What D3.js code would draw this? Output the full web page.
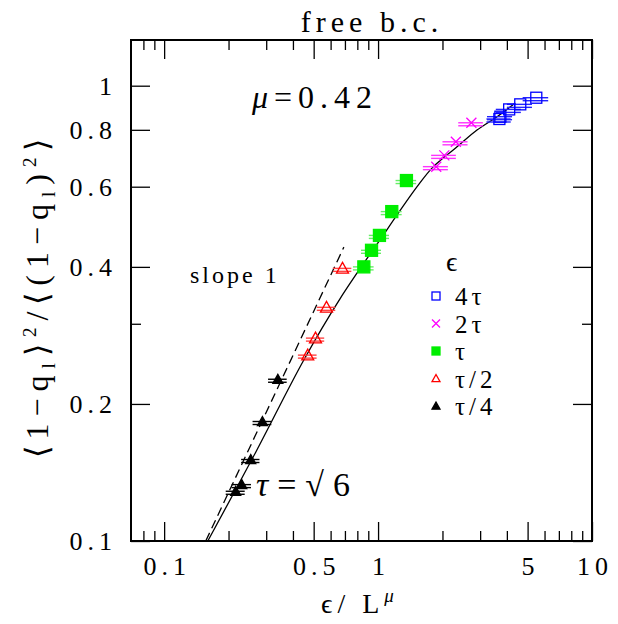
<!DOCTYPE html>
<html>
<head>
<meta charset="utf-8">
<script src="https://cdn.jsdelivr.net/npm/d3@7"></script>
<style>
  body { margin: 0; background: #fff; }
  text { font-family: "Liberation Serif", serif; fill: #000; }
</style>
</head>
<body>
<div id="chart"></div>
<script>
var svgWidth = 618;
var svgHeight = 624;

var margin = { top: 40, right: 26, bottom: 83, left: 131 };
var chartWidth = svgWidth - margin.left - margin.right;
var chartHeight = svgHeight - margin.top - margin.bottom;

// data: [x, y, x error]
var set4tau  = [[5.49, 0.941, 0.75], [4.62, 0.910, 0.62], [4.10, 0.887, 0.55], [3.73, 0.855, 0.50], [3.69, 0.845, 0.48]];
var set2tau  = [[2.73, 0.829, 0.36], [2.31, 0.753, 0.31], [2.04, 0.703, 0.27], [1.87, 0.664, 0.25]];
var setTau   = [[1.357, 0.619, 0.15], [1.159, 0.529, 0.13], [1.015, 0.469, 0.11], [0.932, 0.435, 0.10], [0.858, 0.400, 0.095]];
var setTau2  = [[0.682, 0.397, 0.068], [0.574, 0.326, 0.057], [0.510, 0.279, 0.05], [0.469, 0.256, 0.047]];
var setTau4  = [[0.340, 0.2266, 0.034], [0.288, 0.183, 0.029], [0.254, 0.151, 0.025], [0.2306, 0.133, 0.024], [0.216, 0.1286, 0.022]];

// fitted curve and slope-1 guide
var fitCurve = [[0.160, 0.100], [0.268, 0.1567], [0.449, 0.2495], [0.667, 0.3415], [1.004, 0.4534],
                [1.522, 0.600], [1.814, 0.664], [2.34, 0.734], [2.90, 0.799], [3.60, 0.855], [4.38, 0.916]];
var slopeLine = [[0.1565, 0.100], [0.692, 0.442]];

var xMajor = [0.1, 0.5, 1, 5, 10];
var xMinor = [0.08, 0.09, 0.2, 0.3, 0.4, 0.6, 0.7, 0.8, 0.9, 2, 3, 4, 6, 7, 8, 9];
var yMajor = [0.1, 0.2, 0.4, 0.6, 0.8, 1];
var yMinor = [0.3];

var legendLabels = ["4τ", "2τ", "τ", "τ/2", "τ/4"];

var svg = d3.select("#chart").append("svg")
  .attr("width", svgWidth)
  .attr("height", svgHeight);

var chartGroup = svg.append("g")
  .attr("transform", `translate(${margin.left}, ${margin.top})`);

var xScale = d3.scaleLog().domain([0.07, 10]).range([0, chartWidth]);
var yScale = d3.scaleLog().domain([0.1, 1.26]).range([chartHeight, 0]);

var fmt = d => String(d);

// axes: ticks point inward, on all four sides
function tickStyle(g) {
  g.select(".domain").remove();
  g.selectAll("line").attr("stroke", "#000").attr("stroke-width", 1.3);
  g.selectAll("text").attr("font-size", "26px").attr("letter-spacing", "5px")
    .attr("font-family", "Liberation Serif, serif").attr("fill", "#000");
}

chartGroup.append("g")
  .attr("transform", `translate(0, ${chartHeight})`)
  .call(d3.axisBottom(xScale).tickValues(xMajor).tickSize(-19).tickPadding(16).tickFormat(fmt))
  .call(tickStyle)
  .selectAll("text").attr("dx", "2.5px");
chartGroup.append("g")
  .attr("transform", `translate(0, ${chartHeight})`)
  .call(d3.axisBottom(xScale).tickValues(xMinor).tickSize(-10).tickFormat(""))
  .call(tickStyle);
chartGroup.append("g")
  .call(d3.axisTop(xScale).tickValues(xMajor).tickSize(-19).tickFormat(""))
  .call(tickStyle);
chartGroup.append("g")
  .call(d3.axisTop(xScale).tickValues(xMinor).tickSize(-10).tickFormat(""))
  .call(tickStyle);

chartGroup.append("g")
  .call(d3.axisLeft(yScale).tickValues(yMajor).tickSize(-19).tickPadding(14).tickFormat(fmt))
  .call(tickStyle);
chartGroup.append("g")
  .call(d3.axisLeft(yScale).tickValues(yMinor).tickSize(-10).tickFormat(""))
  .call(tickStyle);
chartGroup.append("g")
  .attr("transform", `translate(${chartWidth}, 0)`)
  .call(d3.axisRight(yScale).tickValues(yMajor).tickSize(-19).tickFormat(""))
  .call(tickStyle);
chartGroup.append("g")
  .attr("transform", `translate(${chartWidth}, 0)`)
  .call(d3.axisRight(yScale).tickValues(yMinor).tickSize(-10).tickFormat(""))
  .call(tickStyle);

// frame
chartGroup.append("rect")
  .attr("width", chartWidth)
  .attr("height", chartHeight)
  .attr("fill", "none")
  .attr("stroke", "#000")
  .attr("stroke-width", 2);

// curves
var line = d3.line()
  .x(d => xScale(d[0]))
  .y(d => yScale(d[1]))
  .curve(d3.curveCatmullRom);

chartGroup.append("path")
  .datum(fitCurve)
  .attr("d", line)
  .attr("fill", "none")
  .attr("stroke", "#000")
  .attr("stroke-width", 1.3);

chartGroup.append("path")
  .datum(slopeLine)
  .attr("d", line)
  .attr("fill", "none")
  .attr("stroke", "#000")
  .attr("stroke-width", 1.3)
  .attr("stroke-dasharray", "9,5");

// error bars and markers
var series = [
  { data: set4tau, color: "#0000ff", bar: "#2222ff", symbol: "square", filled: false, size: 11 },
  { data: set2tau, color: "#ff00ff", bar: "#ff33ff", symbol: "cross", filled: false, size: 10 },
  { data: setTau,  color: "#00ee00", bar: "#66ee66", symbol: "square", filled: true, size: 12 },
  { data: setTau2, color: "#ff0000", bar: "#ff4444", symbol: "triangle", filled: false, size: 12 },
  { data: setTau4, color: "#000000", bar: "#000000", symbol: "triangle", filled: true, size: 10 }
];

function drawMarker(g, s, size) {
  var h = size / 2;
  if (s.symbol === "square") {
    g.append("rect")
      .attr("x", -h).attr("y", -h)
      .attr("width", size).attr("height", size)
      .attr("fill", s.filled ? s.color : "none")
      .attr("stroke", s.color).attr("stroke-width", 1.3);
  } else if (s.symbol === "cross") {
    g.append("path")
      .attr("d", `M${-h},${-h}L${h},${h}M${-h},${h}L${h},${-h}`)
      .attr("stroke", s.color).attr("stroke-width", 1.3);
  } else {
    g.append("path")
      .attr("d", `M0,${-h}L${h},${h * 0.8}L${-h},${h * 0.8}Z`)
      .attr("fill", s.filled ? s.color : "none")
      .attr("stroke", s.color).attr("stroke-width", 1.3);
  }
}

series.forEach(function(s) {
  var g = chartGroup.append("g");
  [0, 3].forEach(function(off) {
    g.selectAll("line.err" + off)
      .data(s.data)
      .enter()
      .append("line")
      .attr("x1", d => xScale(d[0] - d[2]))
      .attr("x2", d => xScale(d[0] + d[2]))
      .attr("y1", d => yScale(d[1]) + off)
      .attr("y2", d => yScale(d[1]) + off)
      .attr("stroke", s.bar)
      .attr("stroke-width", 1.4);
  });
  g.selectAll("g.pt")
    .data(s.data)
    .enter()
    .append("g")
    .attr("transform", d => `translate(${xScale(d[0])}, ${yScale(d[1])})`)
    .each(function() { drawMarker(d3.select(this), s, s.size); });
});

// legend
var legend = svg.append("g").attr("transform", "translate(436, 266)");
legend.append("text").attr("x", 10).attr("y", 5).attr("font-size", "28px").text("ϵ");
legendLabels.forEach(function(lab, i) {
  var row = legend.append("g").attr("transform", `translate(0, ${30 + i * 27.5})`);
  drawMarker(row, series[i], 8);
  row.append("text").attr("x", 19).attr("y", 9)
    .attr("font-size", "25px").attr("letter-spacing", "4px").text(lab);
});

// annotations
svg.append("text").attr("x", 372).attr("y", 32).attr("text-anchor", "middle")
  .attr("font-size", "30px").attr("letter-spacing", "5px").text("free b.c.");
svg.append("text").attr("x", 252).attr("y", 108)
  .attr("font-size", "32px").attr("letter-spacing", "6px")
  .html('<tspan font-style="italic">μ</tspan>=0.42');
svg.append("text").attr("x", 190).attr("y", 283)
  .attr("font-size", "24px").attr("letter-spacing", "3px").text("slope 1");
svg.append("text").attr("x", 256).attr("y", 496)
  .attr("font-size", "34px").attr("letter-spacing", "9px")
  .html('<tspan font-style="italic">τ</tspan>=√6');

// axis titles
svg.append("text").attr("x", 360).attr("y", 613).attr("text-anchor", "middle")
  .attr("font-size", "28px").attr("letter-spacing", "5px")
  .html('ϵ/ L<tspan dy="-11" font-size="19px" font-style="italic">μ</tspan>');

svg.append("text")
  .attr("transform", "rotate(-90)")
  .attr("x", -295).attr("y", 48)
  .attr("text-anchor", "middle")
  .attr("font-size", "32px").attr("letter-spacing", "7px")
  .html('⟨1−q<tspan dy="7" font-size="19px">l</tspan><tspan dy="-7">⟩</tspan><tspan dy="-12" font-size="19px">2</tspan><tspan dy="12">/⟨(1−q</tspan><tspan dy="7" font-size="19px">l</tspan><tspan dy="-7">)</tspan><tspan dy="-12" font-size="19px">2</tspan><tspan dy="12">⟩</tspan>');
</script>
</body>
</html>
